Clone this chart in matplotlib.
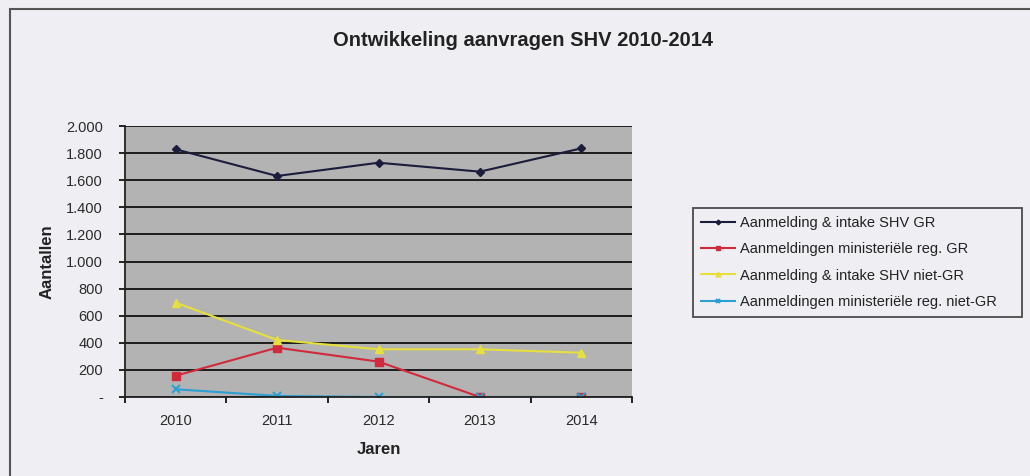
import matplotlib.pyplot as plt
from matplotlib.ticker import FuncFormatter, FixedLocator
from matplotlib.patches import Rectangle

# data
jaren = ['2010', '2011', '2012', '2013', '2014']
gr_intake = [1828, 1631, 1729, 1663, 1835]
gr_ministerieel = [157, 364, 261, 0, 0]
niet_gr_intake = [696, 421, 352, 352, 327]
niet_gr_ministerieel = [57, 8, 0, 0, 0]
labels = ['Aanmelding & intake SHV GR',
          'Aanmeldingen ministeriële reg. GR',
          'Aanmelding & intake SHV niet-GR',
          'Aanmeldingen ministeriële reg. niet-GR']

plt.rcParams['font.family'] = ['Liberation Sans', 'DejaVu Sans']

fig = plt.figure(figsize=(10.3, 4.76), dpi=100)
fig.patch.set_facecolor('#efeff3')
# outer chart frame
fig.patches.append(Rectangle((10 / 1030, -0.05), 1.1, 1 - 9 / 476 + 0.05,
                             transform=fig.transFigure, fill=False,
                             ec='#555555', lw=1.5))

ax = fig.add_axes([125 / 1030, 1 - 397 / 476, 507 / 1030, 271 / 476])
ax.set_facecolor('#b3b3b3')
x = range(len(jaren))

ax.plot(x, gr_intake, color='#1c1c3c', marker='D', ms=4, lw=1.5, label=labels[0])
ax.plot(x, gr_ministerieel, color='#d02a3c', marker='s', ms=6, lw=1.5, label=labels[1])
ax.plot(x, niet_gr_intake, color='#e6df3e', marker='^', ms=6, lw=1.5, label=labels[2])
ax.plot(x, niet_gr_ministerieel, color='#2d9fd2', marker='x', ms=6, mew=1.5, lw=1.5,
        label=labels[3])

ax.set_xlim(-0.5, 4.5)
ax.set_ylim(0, 2000)
ax.set_yticks(range(0, 2001, 200))
ax.yaxis.set_major_formatter(FuncFormatter(
    lambda v, p: '-' if v == 0 else f'{int(v):,}'.replace(',', '.')))
ax.grid(axis='y', color='#111111', lw=1.3)
ax.set_axisbelow(True)

ax.set_xticks(list(x))
ax.set_xticklabels(jaren)
ax.tick_params(axis='x', length=0, labelsize=10.5, pad=12, labelcolor='#2a2a2a')
ax.xaxis.set_minor_locator(FixedLocator([i + 0.5 for i in range(-1, 5)]))
ax.tick_params(axis='x', which='minor', length=4, width=1.2, direction='out')
ax.tick_params(axis='y', length=4, width=1.2, labelsize=10.5, direction='out',
               pad=12, labelcolor='#2a2a2a')

for s in ['top', 'right']:
    ax.spines[s].set_visible(False)
for s in ['left', 'bottom']:
    ax.spines[s].set_color('#222222')
    ax.spines[s].set_linewidth(1.3)

ax.set_ylabel('Aantallen', fontsize=12, fontweight='bold', labelpad=8, color='#222222')
ax.set_xlabel('Jaren', fontsize=12, fontweight='bold', labelpad=10, color='#222222')

fig.text(0.508, 1 - 40 / 476, 'Ontwikkeling aanvragen SHV 2010-2014',
         ha='center', va='center', fontsize=14.5, fontweight='bold', color='#222222')

leg = fig.legend(loc='lower left',
                 bbox_to_anchor=(693 / 1030, 1 - 317 / 476, 329 / 1030, 110 / 476),
                 mode='expand', fontsize=10.5, frameon=True, fancybox=False,
                 edgecolor='#222222', facecolor='#efeff3', handlelength=2.3,
                 handletextpad=0.4, markerscale=0.6, labelspacing=0.85,
                 borderpad=0.55, borderaxespad=0, labelcolor='#222222')
leg.get_frame().set_linewidth(1.3)

fig.savefig('out.png', dpi=100, facecolor=fig.get_facecolor())
